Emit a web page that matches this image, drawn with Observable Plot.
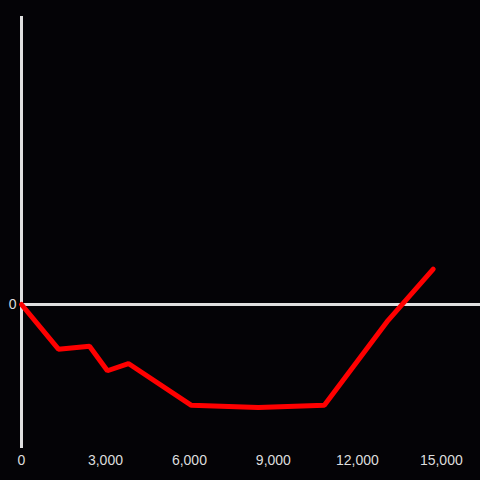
<!DOCTYPE html>
<html>
<head>
<meta charset="utf-8">
<script src="https://cdn.jsdelivr.net/npm/d3@7"></script>
<script src="https://cdn.jsdelivr.net/npm/@observablehq/plot@0.6"></script>
<style>
  html, body { margin: 0; padding: 0; background: #040306; }
  #chart svg { display: block; }
</style>
</head>
<body>
<div id="chart"></div>
<script>
const xs = [0, 1320, 2430, 3070, 3820, 6070, 8460, 10820, 13100, 14710];
const ys = [0, -0.31, -0.29, -0.46, -0.41, -0.70, -0.715, -0.70, -0.11, 0.245];
const xTicks = [0, 3000, 6000, 9000, 12000, 15000];
const yTicks = [0];

const data = xs.map((x, i) => ({x, y: ys[i]}));

const chart = Plot.plot({
  width: 480,
  height: 480,
  marginLeft: 21,
  marginRight: 0,
  marginTop: 16,
  marginBottom: 32,
  style: {background: "#040306", color: "#dddddd", fontFamily: "Liberation Sans, Arial, sans-serif"},
  x: {domain: [0, 16400], label: null},
  y: {domain: [-1, 2], label: null},
  marks: [
    Plot.axisX({ticks: xTicks, tickSize: 0, tickPadding: 7, tickFormat: d3.format(","), fontSize: 14, fill: "#dddddd", label: null}),
    Plot.axisY({ticks: yTicks, tickSize: 0, tickPadding: 5, tickFormat: d3.format("d"), fontSize: 14, fill: "#dddddd", label: null}),
    Plot.ruleY([0], {stroke: "#e0e0e0", strokeWidth: 3}),
    Plot.ruleX([0], {y1: -1, y2: 2, stroke: "#e0e0e0", strokeWidth: 3}),
    Plot.line(data, {x: "x", y: "y", stroke: "#ff0000", strokeWidth: 5, strokeLinecap: "round", strokeLinejoin: "miter"})
  ]
});
document.getElementById("chart").append(chart);
</script>
</body>
</html>
